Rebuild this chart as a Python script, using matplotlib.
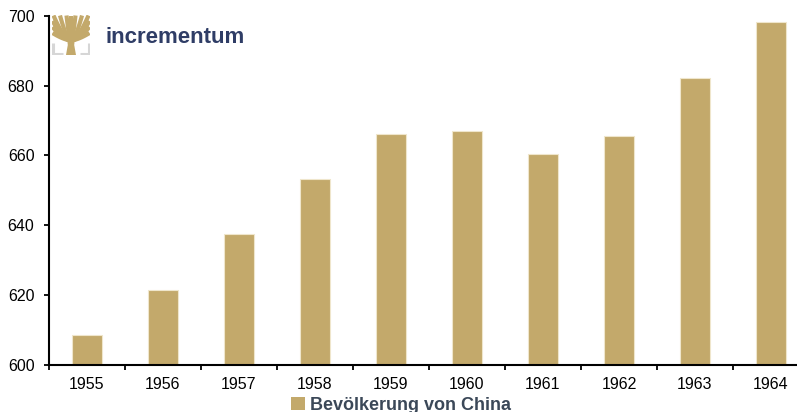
import matplotlib
matplotlib.use("Agg")
import matplotlib.pyplot as plt
from matplotlib.patches import Patch, Polygon
import numpy as np

plt.rcParams['font.family'] = ['Liberation Sans', 'DejaVu Sans']

# Population of China (millions)
years = ["1955", "1956", "1957", "1958", "1959", "1960", "1961", "1962", "1963", "1964"]
population = [608.5, 621.4, 637.4, 653.2, 666.0, 667.0, 660.3, 665.7, 682.3, 698.2]
y_ticks = [600, 620, 640, 660, 680, 700]
series_label = "Bevölkerung von China"

GOLD = "#C3A96B"
NAVY = "#2F3D66"
SLATE = "#3B4858"

W, H = 797, 412
fig = plt.figure(figsize=(W / 100, H / 100), dpi=100)

left, bottom, top = 49, 365, 15.7
ax = fig.add_axes([left / W, (H - bottom) / H, (W - left) / W, (bottom - top) / H])

x = np.arange(len(years))
ax.bar(x, np.array(population) - 600, bottom=600, width=0.4, color=GOLD,
       edgecolor="#EFE6CC", linewidth=0.8, zorder=2)

cat_px = 76.0
ax.set_xlim(-0.5, -0.5 + (W - left) / cat_px)
ax.set_ylim(600, 700)

for s in ["top", "right"]:
    ax.spines[s].set_visible(False)
for s in ["left", "bottom"]:
    ax.spines[s].set_linewidth(1.5)
    ax.spines[s].set_color("black")

ax.set_yticks(y_ticks)
ax.set_yticklabels([str(v) for v in y_ticks])
ax.tick_params(axis="y", direction="out", length=3.5, width=1.3, pad=7,
               labelsize=11.5)

ax.set_xticks(x)
ax.set_xticklabels(years)
ax.set_xticks(np.arange(len(years)) - 0.5, minor=True)
ax.tick_params(axis="x", which="major", length=0, pad=8.5, labelsize=11.5)
ax.tick_params(axis="x", which="minor", direction="out", length=3.5, width=1.3)

ax.legend(handles=[Patch(facecolor=GOLD, edgecolor="none", label=series_label)],
          loc="center", bbox_to_anchor=(401 / W, 1 - 405 / H),
          bbox_transform=fig.transFigure, frameon=False,
          handlelength=0.75, handleheight=0.75, handletextpad=0.3,
          prop={"weight": "bold", "size": 13}, labelcolor=SLATE,
          borderpad=0, borderaxespad=0)

# Brand mark: stylised tree with base brackets
lx, ly, lw, lh = 52, 15, 38, 40
logo = fig.add_axes([lx / W, (H - ly - lh) / H, lw / W, lh / H])
logo.set_xlim(0, lw)
logo.set_ylim(0, lh)
logo.axis("off")
cx = lw / 2
# trunk
logo.add_patch(Polygon([(cx - 5, 0), (cx + 5, 0), (cx + 3.2, 10), (cx + 4, 17),
                        (cx - 4, 17), (cx - 3.2, 10)], closed=True,
                       facecolor=GOLD, edgecolor="none"))
# branches fanning out from the top of the trunk
ends = [(0.5, 22), (0.5, 28), (0.5, 34), (1.5, 39.5), (8, 39.5), (14.5, 39.5),
        (cx, 39.5), (lw - 14.5, 39.5), (lw - 8, 39.5), (lw - 1.5, 39.5),
        (lw - 0.5, 34), (lw - 0.5, 28), (lw - 0.5, 22)]
t = np.linspace(0, 1, 30)
for ex, ey in ends:
    sx = cx + (ex - cx) * 0.12
    sy = 15
    bx = sx + (ex - sx) * t ** 0.8
    by = sy + (ey - sy) * t ** 1.15
    logo.plot(bx, by, color=GOLD, lw=3.0, solid_capstyle="butt")
# base brackets
grey = "#D6D6D6"
logo.plot([1.2, 1.2, 10.5], [12, 1.2, 1.2], color=grey, lw=2.2, solid_capstyle="butt")
logo.plot([lw - 1.2, lw - 1.2, lw - 10.5], [12, 1.2, 1.2], color=grey, lw=2.2,
          solid_capstyle="butt")

fig.text(106 / W, 1 - 37.5 / H, "incrementum", color=NAVY, fontsize=16,
         fontweight="bold", va="center", ha="left")

fig.savefig("out.png", dpi=100)
